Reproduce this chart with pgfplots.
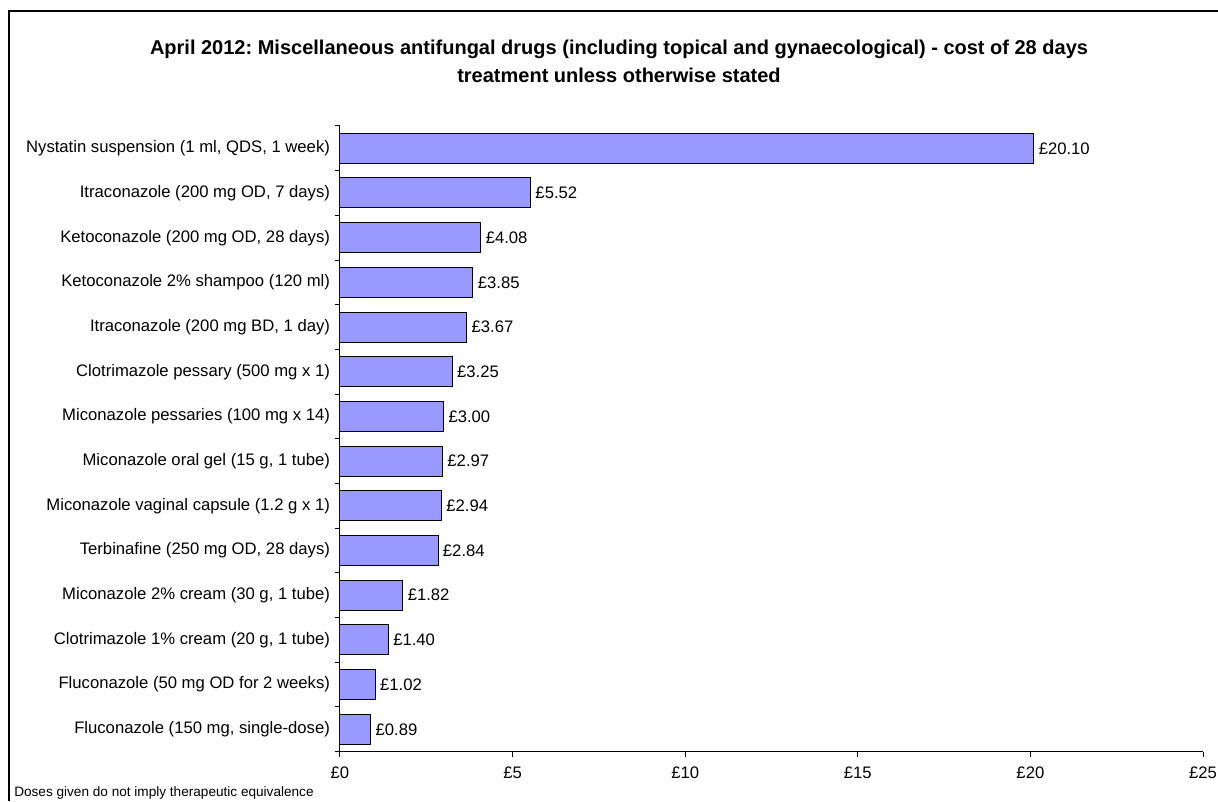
\documentclass[border=0pt]{standalone}
\usepackage{fontspec}
\setmainfont{Liberation Sans}
\usepackage{pgfplots}
\pgfplotsset{compat=1.18}
\definecolor{barblue}{HTML}{9999FF}
\frenchspacing

\begin{document}
\begin{tikzpicture}
% 1 px of the reference = 0.75pt
\path[use as bounding box] (0,0) rectangle (913.5pt,600.75pt);
\draw[line width=1.1pt] (6.75pt,0) -- (6.75pt,592.5pt) -- (920pt,592.5pt);

% title, two lines
\node[anchor=base, font=\fontsize{15}{18}\selectfont\bfseries, inner sep=0pt] at (464.25pt,559.5pt)
  {April 2012: Miscellaneous antifungal drugs (including topical and gynaecological) - cost of 28 days};
\node[anchor=base, font=\fontsize{15}{18}\selectfont\bfseries, inner sep=0pt] at (464.25pt,538.5pt)
  {treatment unless otherwise stated};

\node[anchor=west, font=\fontsize{10.2}{12}\selectfont, inner sep=0pt] at (10.5pt,6pt)
  {Doses given do not imply therapeutic equivalence};

\begin{axis}[
    at={(255pt,36.98pt)}, anchor=south west,
    scale only axis,
    width=647.25pt, height=469.3pt,
    xbar, bar width=22.5pt,
    xmin=0, xmax=25,
    ymin=-0.5, ymax=13.5,
    axis lines*=left,
    axis line style={-, line width=0.75pt},
    xtick={0,5,10,15,20,25},
    xticklabels={£0,£5,£10,£15,£20,£25},
    ytick={0,...,13},
    yticklabels={
      {Fluconazole (150 mg, single-dose)},
      {Fluconazole (50 mg OD for 2 weeks)},
      {Clotrimazole 1\% cream (20 g, 1 tube)},
      {Miconazole 2\% cream (30 g, 1 tube)},
      {Terbinafine (250 mg OD, 28 days)},
      {Miconazole vaginal capsule (1.2 g x 1)},
      {Miconazole oral gel (15 g, 1 tube)},
      {Miconazole pessaries (100 mg x 14)},
      {Clotrimazole pessary (500 mg x 1)},
      {Itraconazole (200 mg BD, 1 day)},
      {Ketoconazole 2\% shampoo (120 ml)},
      {Ketoconazole (200 mg OD, 28 days)},
      {Itraconazole (200 mg OD, 7 days)},
      {Nystatin suspension (1 ml, QDS, 1 week)}},
    minor ytick={-0.5,0.5,...,13.5},
    tick align=outside,
    major tick length=4pt,
    minor tick length=4pt,
    major y tick style={draw=none},
    tick style={black, line width=0.75pt},
    ticklabel style={font=\fontsize{12.5}{15}\selectfont},
    xticklabel style={yshift=-4pt},
    /pgf/number format/assume math mode=true,
    nodes near coords={£\pgfmathprintnumber[fixed,fixed zerofill,precision=2]{\pgfplotspointmeta}},
    every node near coord/.append style={font=\fontsize{12.5}{15}\selectfont, black},
]
\addplot[fill=barblue, draw=black, line width=0.75pt] coordinates {
  (0.89,0) (1.02,1) (1.40,2) (1.82,3) (2.84,4) (2.94,5) (2.97,6)
  (3.00,7) (3.25,8) (3.67,9) (3.85,10) (4.08,11) (5.52,12) (20.10,13)
};
\end{axis}
\end{tikzpicture}
\end{document}
